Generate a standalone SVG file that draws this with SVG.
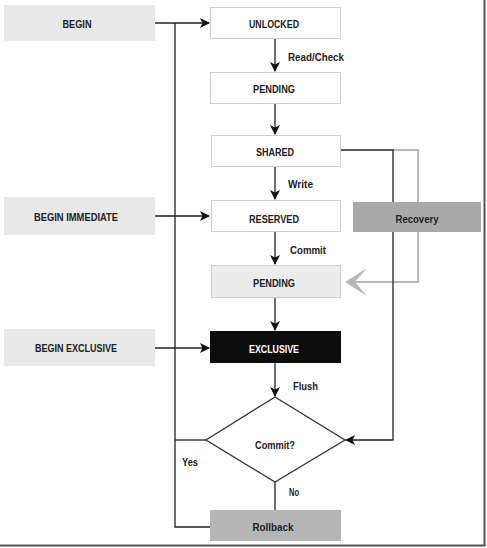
<svg xmlns="http://www.w3.org/2000/svg" width="487" height="548" viewBox="0 0 487 548">
<style>
  text { font-family: "Liberation Sans", Arial, sans-serif; font-weight: bold; font-size: 10.5px; fill: #222; }
  .c { text-anchor: middle; }
  .box { fill: #fff; stroke: #cfcfcf; stroke-width: 1; }
  .start { fill: #e8e8e8; }
  .ln { fill: none; stroke: #222; stroke-width: 1.3; }
  .gln { fill: none; stroke: #b8b8b8; stroke-width: 2; }
</style>
<defs>
  <marker id="ah" markerWidth="10" markerHeight="10" refX="9" refY="5" orient="auto" markerUnits="userSpaceOnUse">
    <path d="M0,0 L10,5 L0,10 L2.5,5 Z" fill="#111"/>
  </marker>
  <marker id="gah" markerWidth="22" markerHeight="30" refX="21" refY="15" orient="auto" markerUnits="userSpaceOnUse">
    <path d="M22,15 L0,1 L12,15 L0,29 Z" fill="#b8b8b8"/>
  </marker>
</defs>
<rect x="0" y="0" width="487" height="548" fill="#fff"/>
<!-- frame shadow -->
<line x1="484.5" y1="0" x2="484.5" y2="546" stroke="#555" stroke-width="2"/>
<line x1="0" y1="545.5" x2="485.5" y2="545.5" stroke="#555" stroke-width="2"/>

<g id="connectors">
  <line class="ln" x1="155" y1="23" x2="209" y2="23" marker-end="url(#ah)"/>
  <polyline class="ln" points="175,23 175,527 210,527"/>
  <line class="ln" x1="175" y1="440" x2="206" y2="440"/>
  <line class="ln" x1="155" y1="216" x2="209" y2="216" marker-end="url(#ah)"/>
  <line class="ln" x1="155" y1="348" x2="209" y2="348" marker-end="url(#ah)"/>
  <line class="ln" x1="275" y1="39" x2="275" y2="71" marker-end="url(#ah)"/>
  <line class="ln" x1="275" y1="104" x2="275" y2="134" marker-end="url(#ah)"/>
  <line class="ln" x1="275" y1="167" x2="275" y2="199" marker-end="url(#ah)"/>
  <line class="ln" x1="275" y1="232" x2="275" y2="264" marker-end="url(#ah)"/>
  <line class="ln" x1="275" y1="298" x2="275" y2="330" marker-end="url(#ah)"/>
  <line class="ln" x1="275" y1="363" x2="275" y2="396" marker-end="url(#ah)"/>
  <line class="ln" x1="275" y1="482" x2="275" y2="510"/>
  <polyline class="gln" points="393,150 418,150 418,282 346,282" marker-end="url(#gah)"/>
  <polyline class="ln" points="341,150 393,150 393,440 346,440" marker-end="url(#ah)"/>
  <text x="288" y="61" textLength="56" lengthAdjust="spacingAndGlyphs">Read/Check</text>
  <text x="288" y="188" textLength="25" lengthAdjust="spacingAndGlyphs">Write</text>
  <text x="290" y="253.5" textLength="36" lengthAdjust="spacingAndGlyphs">Commit</text>
  <text x="293" y="389.5" textLength="25" lengthAdjust="spacingAndGlyphs">Flush</text>
  <text x="182" y="465.5" textLength="16" lengthAdjust="spacingAndGlyphs">Yes</text>
  <text x="289" y="495.5" textLength="10" lengthAdjust="spacingAndGlyphs">No</text>
</g>

<g id="begin"><rect class="start" x="4" y="5" width="151" height="36"/><text class="c" x="77" y="27.5" textLength="29" lengthAdjust="spacingAndGlyphs">BEGIN</text></g>
<g id="begin-immediate"><rect class="start" x="4" y="197" width="151" height="38"/><text class="c" x="76" y="221" textLength="84" lengthAdjust="spacingAndGlyphs">BEGIN IMMEDIATE</text></g>
<g id="begin-exclusive"><rect class="start" x="4" y="329" width="151" height="37"/><text class="c" x="76" y="352" textLength="82" lengthAdjust="spacingAndGlyphs">BEGIN EXCLUSIVE</text></g>

<g id="unlocked"><rect class="box" x="210.5" y="7.5" width="130" height="31"/><text class="c" x="274" y="27.5" textLength="50" lengthAdjust="spacingAndGlyphs">UNLOCKED</text></g>
<g id="pending"><rect class="box" x="210.5" y="72.5" width="130" height="31"/><text class="c" x="274" y="92.5" textLength="42" lengthAdjust="spacingAndGlyphs">PENDING</text></g>
<g id="shared"><rect class="box" x="211.5" y="135.5" width="129" height="31"/><text class="c" x="275" y="156" textLength="38" lengthAdjust="spacingAndGlyphs">SHARED</text></g>
<g id="reserved"><rect class="box" x="211.5" y="200.5" width="129" height="31"/><text class="c" x="274" y="223" textLength="50" lengthAdjust="spacingAndGlyphs">RESERVED</text></g>
<g id="recovery"><rect x="353" y="202" width="128" height="30" fill="#a9a9a9"/><text class="c" x="417" y="223" textLength="43" lengthAdjust="spacingAndGlyphs">Recovery</text></g>
<g id="pending2"><rect class="box" x="211.5" y="265.5" width="129" height="32" style="fill:#ececec"/><text class="c" x="274" y="287" textLength="42" lengthAdjust="spacingAndGlyphs">PENDING</text></g>
<g id="exclusive"><rect x="210" y="331" width="131" height="32" fill="#0d0d0d"/><text class="c" x="274" y="353" textLength="50" lengthAdjust="spacingAndGlyphs" style="fill:#fff">EXCLUSIVE</text></g>
<g id="commit"><polygon points="275,397 345,440 275,482 206,440" fill="#fff" stroke="#333" stroke-width="1.3"/><text class="c" x="275" y="449" textLength="40" lengthAdjust="spacingAndGlyphs">Commit?</text></g>
<g id="rollback"><rect x="210" y="510" width="131" height="31" fill="#b5b5b5"/><text class="c" x="273" y="531" textLength="41" lengthAdjust="spacingAndGlyphs">Rollback</text></g>
</svg>
